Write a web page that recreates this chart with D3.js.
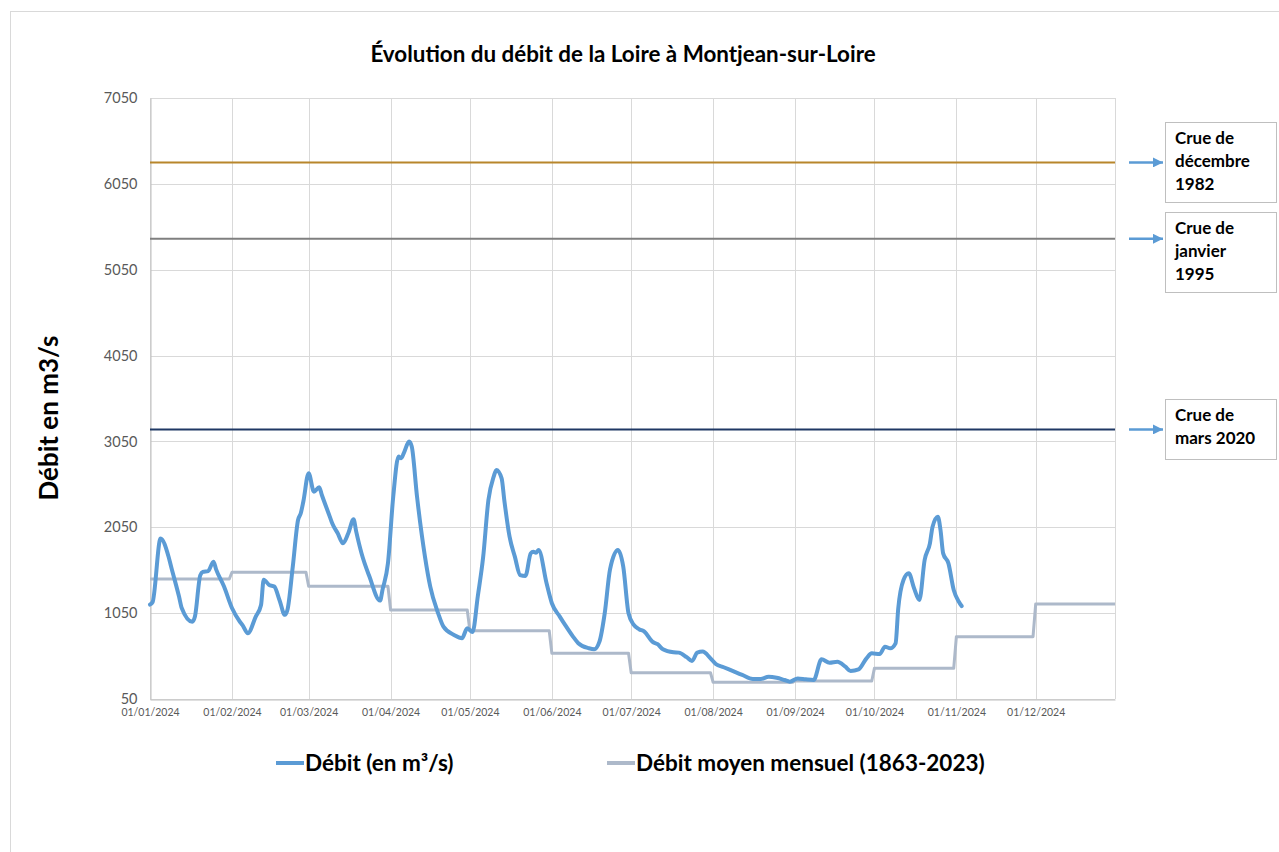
<!DOCTYPE html>
<html>
<head>
<meta charset="utf-8">
<script src="https://cdn.jsdelivr.net/npm/d3@7"></script>
<style>
  html, body { margin: 0; padding: 0; background: #ffffff; }
  svg { display: block; }
  text { font-family: "Lato", "Liberation Sans", sans-serif; }
</style>
</head>
<body>
<svg id="chart" width="1279" height="852"></svg>
<script>
// ---------- DATA ----------
const dates = [
  "2024-01-01","2024-01-02","2024-01-05","2024-01-08","2024-01-09","2024-01-12","2024-01-13","2024-01-17","2024-01-18","2024-01-20",
  "2024-01-21","2024-01-23","2024-01-25","2024-01-26","2024-01-29","2024-02-01","2024-02-04","2024-02-05","2024-02-07","2024-02-10",
  "2024-02-12","2024-02-13","2024-02-15","2024-02-17","2024-02-19","2024-02-21","2024-02-22","2024-02-24","2024-02-26","2024-02-27",
  "2024-02-28","2024-03-01","2024-03-03","2024-03-05","2024-03-06","2024-03-09","2024-03-10","2024-03-12","2024-03-14","2024-03-16",
  "2024-03-18","2024-03-19","2024-03-21","2024-03-24","2024-03-28","2024-03-29","2024-03-31","2024-04-02","2024-04-04","2024-04-05",
  "2024-04-06","2024-04-08","2024-04-09","2024-04-11","2024-04-14","2024-04-16","2024-04-19","2024-04-21","2024-04-25","2024-04-28",
  "2024-04-30","2024-05-02","2024-05-04","2024-05-06","2024-05-08","2024-05-10","2024-05-11","2024-05-13","2024-05-14","2024-05-16",
  "2024-05-18","2024-05-20","2024-05-22","2024-05-24","2024-05-25","2024-05-26","2024-05-27","2024-05-30","2024-06-01","2024-06-04",
  "2024-06-06","2024-06-09","2024-06-11","2024-06-15","2024-06-17","2024-06-19","2024-06-21","2024-06-23","2024-06-26","2024-06-28",
  "2024-06-30","2024-07-02","2024-07-04","2024-07-06","2024-07-09","2024-07-11","2024-07-13","2024-07-17","2024-07-19","2024-07-22",
  "2024-07-24","2024-07-26","2024-07-28","2024-07-31","2024-08-02","2024-08-05","2024-08-09","2024-08-12","2024-08-16","2024-08-19",
  "2024-08-22","2024-08-25","2024-08-28","2024-08-30","2024-09-02","2024-09-05","2024-09-08","2024-09-11","2024-09-14","2024-09-17",
  "2024-09-20","2024-09-22","2024-09-25","2024-09-28","2024-09-30","2024-10-03","2024-10-05","2024-10-07","2024-10-09","2024-10-10",
  "2024-10-12","2024-10-14","2024-10-16","2024-10-18","2024-10-20","2024-10-22","2024-10-23","2024-10-25","2024-10-26","2024-10-27",
  "2024-10-29","2024-10-31","2024-11-02","2024-11-03"
];
const debit = [
  1150,1180,1920,1710,1590,1240,1110,950,1010,1490,
  1530,1540,1650,1560,1360,1110,950,910,815,1010,
  1145,1440,1380,1360,1200,1030,1090,1590,2135,2210,
  2350,2680,2465,2516,2426,2174,2090,1980,1864,1980,
  2143,1999,1748,1476,1196,1330,1630,2407,2873,2855,
  2913,3048,2990,2407,1708,1358,1048,893,796,758,
  874,830,1250,1700,2368,2640,2718,2620,2368,1940,
  1708,1494,1483,1746,1766,1754,1785,1397,1165,1010,
  913,777,700,641,629,718,1050,1560,1785,1591,
  1048,913,863,835,718,688,629,594,590,537,
  493,590,602,524,458,420,368,330,283,283,
  310,298,271,252,290,279,271,512,472,484,
  426,376,395,524,582,574,659,640,698,1100,
  1436,1514,1339,1203,1669,1864,2057,2174,2018,1746,
  1630,1320,1180,1133
];
const months = ["2024-01","2024-02","2024-03","2024-04","2024-05","2024-06","2024-07","2024-08","2024-09","2024-10","2024-11","2024-12"];
const debitMoyenMensuel = [1448,1526,1363,1087,845,582,356,244,260,407,776,1156];
const crueLabels = [["Crue de","décembre","1982"],["Crue de","janvier","1995"],["Crue de","mars 2020"]];
const crueValues = [6300,5410,3190];
const yTicks = [50,1050,2050,3050,4050,5050,6050,7050];
const seriesNames = ["Débit (en m³/s)","Débit moyen mensuel (1863-2023)"];
const chartTitle = "Évolution du débit de la Loire à Montjean-sur-Loire";
const yTitle = "Débit en m3/s";

// ---------- LAYOUT ----------
const svg = d3.select("#chart");
const pL = 150, pR = 1115, pT = 98, pB = 699;
const parse = d3.timeParse("%Y-%m-%d");
const parseM = d3.timeParse("%Y-%m");
const x = d3.scaleTime().domain([new Date(2024,0,1), new Date(2024,11,31)]).range([pL,pR]);
const y = d3.scaleLinear().domain([50,7050]).range([pB,pT]);

const crueColors = ["#b8862b","#7f7f7f","#1f3864"];
const blue = "#5b9bd5", grey = "#adb9ca";

// outer chart border
svg.append("rect").attr("x",10.5).attr("y",11.5).attr("width",1300).attr("height",900)
  .attr("fill","#fff").attr("stroke","#d9d9d9").attr("stroke-width",1);

// title
svg.append("text").attr("x",623).attr("y",62).attr("text-anchor","middle")
  .attr("font-size",22.4).attr("font-weight","bold").attr("fill","#000").text(chartTitle);

// gridlines horizontal
svg.append("g").selectAll("line").data(yTicks).join("line")
  .attr("x1",pL).attr("x2",pR)
  .attr("y1",d=>Math.round(y(d))+0.5).attr("y2",d=>Math.round(y(d))+0.5)
  .attr("stroke","#d9d9d9").attr("stroke-width",1);

// gridlines vertical (month starts + end)
const monthTicks = d3.timeMonth.range(new Date(2024,0,1), new Date(2024,11,31));
svg.append("g").selectAll("line").data(monthTicks.concat([new Date(2024,11,31)])).join("line")
  .attr("y1",pT).attr("y2",pB)
  .attr("x1",d=>Math.round(x(d))+0.5).attr("x2",d=>Math.round(x(d))+0.5)
  .attr("stroke","#d9d9d9").attr("stroke-width",1);

// axes
const yAxis = d3.axisLeft(y).tickValues(yTicks).tickSize(0).tickPadding(13).tickFormat(d3.format("d"));
const gy = svg.append("g").attr("transform",`translate(${pL+0.5},0)`).call(yAxis);
gy.select(".domain").attr("stroke","#bfbfbf");
gy.selectAll("text").attr("font-size",14.5).attr("fill","#595959").attr("font-family","Lato, sans-serif");

const xAxis = d3.axisBottom(x).tickValues(monthTicks).tickSize(0).tickPadding(9).tickFormat(d3.timeFormat("%d/%m/%Y"));
const gx = svg.append("g").attr("transform",`translate(0,${pB+0.5})`).call(xAxis);
gx.select(".domain").attr("stroke","#bfbfbf");
gx.selectAll("text").attr("font-size",10.5).attr("fill","#595959").attr("font-family","Lato, sans-serif");

// y title
svg.append("text").attr("transform","translate(58,418) rotate(-90)").attr("text-anchor","middle")
  .attr("font-size",26).attr("font-weight","bold").attr("fill","#000").text(yTitle);

// crue lines
svg.append("g").selectAll("line").data(crueValues).join("line")
  .attr("x1",pL).attr("x2",pR)
  .attr("y1",d=>y(d)).attr("y2",d=>y(d))
  .attr("stroke",(d,i)=>crueColors[i]).attr("stroke-width",2);

// monthly mean step line
const stepPts = [];
months.forEach((m,i)=>{
  const s = parseM(m);
  const e = d3.timeDay.offset(d3.timeMonth.offset(s,1),-1);
  stepPts.push([s,debitMoyenMensuel[i]],[e,debitMoyenMensuel[i]]);
});
svg.append("path").datum(stepPts)
  .attr("fill","none").attr("stroke",grey).attr("stroke-width",3).attr("stroke-linejoin","round")
  .attr("d",d3.line().x(d=>x(d[0])).y(d=>y(d[1])));

// daily debit
const debitPts = dates.map((d,i)=>[parse(d),debit[i]]);
svg.append("path").datum(debitPts)
  .attr("fill","none").attr("stroke",blue).attr("stroke-width",4).attr("stroke-linejoin","round").attr("stroke-linecap","round")
  .attr("d",d3.line().x(d=>x(d[0])).y(d=>y(d[1])).curve(d3.curveMonotoneX));

// annotation boxes and arrows
const defs = svg.append("defs");
defs.append("marker").attr("id","arrow").attr("viewBox","0 0 10 10").attr("refX",10).attr("refY",5)
  .attr("markerWidth",4).attr("markerHeight",4).attr("orient","auto")
  .append("path").attr("d","M0,0 L10,5 L0,10 Z").attr("fill",blue);

const boxes = [
  {t:122, h:80}, {t:212, h:80}, {t:399, h:60}
];
crueValues.forEach((v,i)=>{
  const yy = y(v);
  svg.append("line").attr("x1",1129).attr("x2",1163).attr("y1",yy).attr("y2",yy)
    .attr("stroke",blue).attr("stroke-width",2.5).attr("marker-end","url(#arrow)");
  const b = boxes[i];
  svg.append("rect").attr("x",1165.5).attr("y",b.t+0.5).attr("width",111).attr("height",b.h)
    .attr("fill","#fff").attr("stroke","#bfbfbf").attr("stroke-width",1);
  crueLabels[i].forEach((t,j)=>{
    svg.append("text").attr("x",1175).attr("y",b.t+22+j*23)
      .attr("font-size",17).attr("font-weight","bold").attr("fill","#000").text(t);
  });
});

// legend
seriesNames.forEach((n,i)=>{
  const lx = [276,607][i];
  const c = [blue,grey][i];
  svg.append("line").attr("x1",lx).attr("x2",lx+28).attr("y1",763).attr("y2",763)
    .attr("stroke",c).attr("stroke-width",4);
  svg.append("text").attr("x",lx+29).attr("y",771)
    .attr("font-size",22.5).attr("font-weight","bold").attr("fill","#000").text(n);
});
</script>
</body>
</html>
